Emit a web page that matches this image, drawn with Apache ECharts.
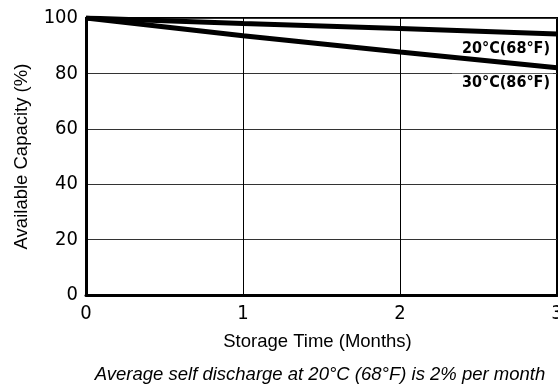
<!DOCTYPE html>
<html><head><meta charset="utf-8">
<script src="https://cdn.jsdelivr.net/npm/echarts@6/dist/echarts.min.js"></script>
<style>html,body{margin:0;padding:0;background:#fff}#c{width:558px;height:384px}</style>
</head><body><div id="c"></div>
<script>
var months = [0, 1, 2, 3];
var yTicks = [0, 20, 40, 60, 80, 100];
var cap20 = [100, 98, 96.2, 94.2];
var cap30 = [100, 93.6, 87.7, 82];
var name20 = '20°C(68°F)';
var name30 = '30°C(86°F)';
var xTitle = 'Storage Time (Months)';
var yTitle = 'Available Capacity (%)';
var note = 'Average self discharge at 20°C (68°F) is 2% per month';

var narrow = '"DejaVu Sans Condensed","DejaVu Sans",sans-serif';
var sans = '"Liberation Sans",Arial,sans-serif';

function series(name, arr, z) {
  return {name: name, type: 'line', symbol: 'none', z: z,
    data: arr.map(function (v, i) { return [months[i], v]; }),
    lineStyle: {color: '#000', width: 5},
    endLabel: {show: true, formatter: name, distance: 0, align: 'right', verticalAlign: 'top',
      offset: [-4, 6], fontFamily: narrow, fontWeight: 'bold', fontSize: 16, color: '#000',
      backgroundColor: '#fff', padding: [1, 3, 1, 10]}};
}

var chart = echarts.init(document.getElementById('c'), null, {renderer: 'canvas'});
chart.setOption({
  animation: false,
  grid: {left: 86, right: 1, top: 18, bottom: 89, show: true, borderColor: '#000', borderWidth: 2,
    backgroundColor: 'transparent', containLabel: false, outerBoundsMode: 'none'},
  title: {text: note, left: 315, textAlign: 'center', top: 360,
    textStyle: {fontFamily: sans, fontStyle: 'italic', fontWeight: 'normal', fontSize: 18.5, color: '#000'}},
  xAxis: {type: 'value', min: 0, max: 3, interval: 1,
    name: xTitle, nameLocation: 'middle', nameGap: 37,
    nameTextStyle: {fontFamily: sans, fontSize: 18.5, color: '#000', padding: [0, 8, 0, 0]},
    axisLine: {show: true, onZero: false, lineStyle: {color: '#000', width: 3}},
    axisTick: {show: false},
    axisLabel: {margin: 9, fontFamily: narrow, fontSize: 20, color: '#000'},
    splitLine: {show: true, lineStyle: {color: '#000', width: 1}}},
  yAxis: {type: 'value', min: 0, max: 100, interval: 20,
    name: yTitle, nameLocation: 'middle', nameGap: 55,
    nameTextStyle: {fontFamily: sans, fontSize: 18.5, color: '#000'},
    axisLine: {show: true, lineStyle: {color: '#000', width: 3}},
    axisTick: {show: false},
    axisLabel: {margin: 8, fontFamily: narrow, fontSize: 20, color: '#000',
      formatter: function (v) { return yTicks.indexOf(v) >= 0 ? String(v) : ''; }},
    splitLine: {show: true, lineStyle: {color: '#333', width: 1}}},
  series: [series(name20, cap20, 3), series(name30, cap30, 4)]
});
</script></body></html>
